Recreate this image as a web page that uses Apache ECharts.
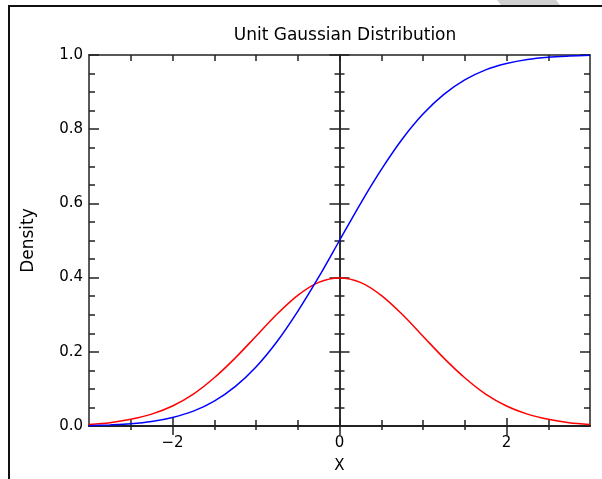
<!DOCTYPE html>
<html>
<head>
<meta charset="utf-8">
<script src="https://cdn.jsdelivr.net/npm/echarts@6/dist/echarts.min.js"></script>
<style>
html,body{margin:0;padding:0;background:#fff;}
#c{width:602px;height:479px;}
</style>
</head>
<body>
<div id="c"></div>
<script>
// Data
const xs  = [-3,-2.75,-2.5,-2.25,-2,-1.75,-1.5,-1.25,-1,-0.75,-0.5,-0.25,0,0.25,0.5,0.75,1,1.25,1.5,1.75,2,2.25,2.5,2.75,3];
const pdf = [0.004,0.009,0.018,0.032,0.054,0.086,0.130,0.183,0.242,0.301,0.352,0.387,0.399,0.387,0.352,0.301,0.242,0.183,0.130,0.086,0.054,0.032,0.018,0.009,0.004];
const cdf = [0.001,0.003,0.006,0.012,0.023,0.040,0.067,0.106,0.159,0.227,0.309,0.401,0.500,0.599,0.691,0.773,0.841,0.894,0.933,0.960,0.977,0.988,0.994,0.997,0.999];
const xMajorTicks = [-2,0,2];
const xMinorTicks = [-2.5,-2,-1.5,-1,-0.5,0,0.5,1,1.5,2,2.5];
const titleText = 'Unit Gaussian Distribution';
const xName = 'X';
const yName = 'Density';

const FONT = 'DejaVu Sans';
const AX = '#222';
const axLine = {show:true, onZero:false, lineStyle:{color:AX, width:1.5}};

const pdfData = xs.map((x,i)=>[x,pdf[i]]);
const cdfData = xs.map((x,i)=>[x,cdf[i]]);

const baseX = {type:'value', min:-3, max:3, splitLine:{show:false}};
const baseY = {type:'value', min:0, max:1, interval:0.2, splitLine:{show:false}};

const chart = echarts.init(document.getElementById('c'), null, {renderer:'canvas'});
chart.setOption({
  animation:false,
  backgroundColor:'#ffffff',
  title:{text:titleText, left:340, top:22, textAlign:'center',
    textStyle:{fontFamily:FONT, fontSize:17, fontWeight:'normal', color:'#000'}},
  grid:{left:89, right:12, top:55, bottom:51, containLabel:false},
  graphic:[
    {type:'polygon', shape:{points:[[497,0],[556,0],[560,5],[501,5]]}, style:{fill:'#d0d0d0'}, silent:true},
    {type:'polyline', shape:{points:[[9,479],[9,6],[602,6]]}, style:{stroke:'#111', lineWidth:2, fill:null}, silent:true}
  ],
  xAxis:[
    Object.assign({}, baseX, {position:'bottom', axisLine:axLine,
      name:xName, nameLocation:'middle', nameGap:33,
      nameTextStyle:{fontFamily:FONT, fontSize:15, color:'#000'},
      axisLabel:{customValues:xMajorTicks, fontFamily:FONT, fontSize:15, color:'#000', margin:10,
        formatter:v=>String(v).replace('-','\u2212')},
      axisTick:{show:true, customValues:xMajorTicks, inside:false, length:9, lineStyle:{color:AX, width:1.5}}}),
    Object.assign({}, baseX, {position:'bottom', axisLine:axLine, axisLabel:{show:false},
      axisTick:{show:true, customValues:xMajorTicks, inside:true, length:8, lineStyle:{color:AX, width:1.5}}}),
    Object.assign({}, baseX, {position:'bottom', axisLine:axLine, axisLabel:{show:false}, interval:0.5,
      axisTick:{show:true, customValues:xMinorTicks, inside:true, length:6, lineStyle:{color:AX, width:1.5}}}),
    Object.assign({}, baseX, {position:'bottom', axisLine:axLine, axisLabel:{show:false}, interval:0.5,
      axisTick:{show:true, customValues:xMinorTicks, inside:false, length:4, lineStyle:{color:AX, width:1.5}}}),
    Object.assign({}, baseX, {position:'top', axisLine:axLine, axisLabel:{show:false}, interval:0.5,
      axisTick:{show:true, customValues:xMinorTicks, inside:true, length:6, lineStyle:{color:AX, width:1.5}}})
  ],
  yAxis:[
    Object.assign({}, baseY, {position:'left', axisLine:axLine,
      name:yName, nameLocation:'middle', nameGap:52, nameRotate:90,
      nameTextStyle:{fontFamily:FONT, fontSize:17, color:'#000'},
      axisLabel:{fontFamily:FONT, fontSize:15, color:'#000', margin:6, formatter:v=>v.toFixed(1)},
      axisTick:{show:true, inside:true, length:10, lineStyle:{color:AX, width:1.5}},
      minorTick:{show:true, splitNumber:4, length:6, lineStyle:{color:AX, width:1.5}}}),
    Object.assign({}, baseY, {position:'right', axisLine:axLine, axisLabel:{show:false},
      axisTick:{show:true, inside:true, length:10, lineStyle:{color:AX, width:1.5}},
      minorTick:{show:true, splitNumber:4, length:6, lineStyle:{color:AX, width:1.5}}}),
    Object.assign({}, baseY, {position:'left', axisLine:{show:true, onZero:true, lineStyle:{color:AX, width:1.5}}, axisLabel:{show:false},
      axisTick:{show:true, inside:true, length:10, lineStyle:{color:AX, width:1.5}},
      minorTick:{show:true, splitNumber:4, length:5, lineStyle:{color:AX, width:1.5}}}),
    Object.assign({}, baseY, {position:'left', axisLine:{show:true, onZero:true, lineStyle:{color:AX, width:1.5}}, axisLabel:{show:false},
      axisTick:{show:true, inside:false, length:10, lineStyle:{color:AX, width:1.5}},
      minorTick:{show:true, splitNumber:4, length:5, lineStyle:{color:AX, width:1.5}}})
  ],
  series:[
    {type:'line', name:'pdf', data:pdfData, xAxisIndex:0, yAxisIndex:0, showSymbol:false, smooth:0.3,
      lineStyle:{color:'#ff0000', width:1.5}, itemStyle:{color:'#ff0000'}, z:3},
    {type:'line', name:'cdf', data:cdfData, xAxisIndex:0, yAxisIndex:0, showSymbol:false, smooth:0.3,
      lineStyle:{color:'#0000ff', width:1.5}, itemStyle:{color:'#0000ff'}, z:4}
  ]
});
</script>
</body>
</html>
